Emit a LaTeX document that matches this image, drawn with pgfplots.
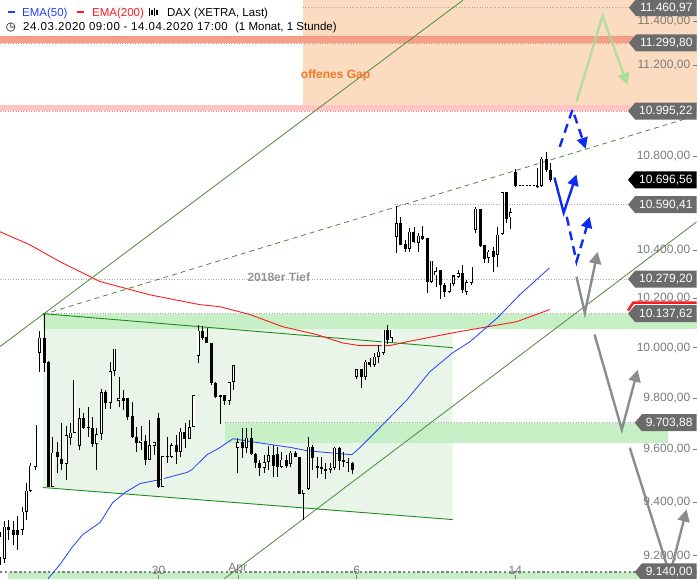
\documentclass[border=0pt]{standalone}
\usepackage{fontspec}
\setmainfont{Liberation Sans}
\newfontfamily\dejavu{DejaVu Sans}
\newfontfamily\datefont[LetterSpace=4.5]{Liberation Sans}
\usepackage{pgfplots}
\usepackage{pgfplotstable}
\pgfplotsset{compat=1.18}
\usetikzlibrary{arrows.meta,shapes.symbols}

\definecolor{gapfill}{HTML}{FCDCC0}
\definecolor{redband}{HTML}{F4A088}
\definecolor{pinkband}{HTML}{FFC4C4}
\definecolor{greenband}{HTML}{C6EFC6}
\definecolor{flagfill}{HTML}{EAF5EA}
\definecolor{flagline}{HTML}{1E8C1E}
\definecolor{chanline}{HTML}{4C8A3C}
\definecolor{ema50}{HTML}{1F3FFF}
\definecolor{ema200}{HTML}{FF1A1A}
\definecolor{arrblue}{HTML}{0B2BF5}
\definecolor{arrgray}{HTML}{8C8C8C}
\definecolor{arrgreen}{HTML}{A9DD97}
\definecolor{lblgray}{HTML}{6B6B6B}
\definecolor{tickgray}{HTML}{7A7A7A}
\definecolor{gapcol}{HTML}{F07A28}

\tikzset{
  refline/.style={draw=gray!70, dotted, line width=0.6pt},
  chan/.style={draw=chanline, line width=0.8pt},
  lbl/.style={shape=signal, signal to=west, signal pointer angle=100, fill=lblgray, text=white,
    font=\fontsize{12}{12}\selectfont, minimum height=17pt, inner xsep=4pt, inner ysep=0pt, anchor=east},
  arrb/.style={draw=arrblue, line width=2.4pt, -{Triangle[length=11pt,width=11pt]}},
  arrg/.style={draw=arrgray, line width=2.4pt, -{Triangle[length=12pt,width=12pt]}},
  wick/.style={draw=black, line width=0.8pt},
  body/.style={draw=black, line width=3pt},
  hollow/.style={draw=white, line width=1.5pt},
  hdr/.style={anchor=base west, inner sep=0pt, font=\fontsize{11.5}{12}\selectfont},
}

% hourly candles, k = hour index from 24.03.2020 09:00
\pgfplotstableread{
k o h l c
0 9192 9286 9167 9271
1 9189 9327 9174 9308
2 9308 9334 9259 9294
3 9297 9327 9241 9278
4 9297 9349 9222 9278
5 9297 9383 9278 9364
6 9364 9474 9334 9443
7 9443 9550 9436 9538
8 9534 9696 9523 9696
9 9980 10065 9904 10041
10 10041 10133 9904 9940
11 9944 9948 9458 9458
12 9458 9649 9458 9588
13 9591 9630 9512 9572
14 9565 9704 9523 9546
15 9546 9692 9485 9657
16 9646 9704 9618 9665
17 9665 9873 9665 9873
18 9615 9762 9599 9723
19 9723 9743 9680 9684
20 9688 9766 9649 9684
21 9684 9727 9611 9622
22 9622 9684 9523 9661
23 9661 9836 9638 9825
24 9825 9833 9758 9781
25 9781 9944 9758 9908
26 9908 9996 9889 9996
27 9789 9885 9766 9801
28 9801 9833 9754 9789
29 9801 9801 9715 9727
30 9731 9785 9646 9649
31 9649 9688 9591 9626
32 9626 9692 9599 9634
33 9634 9657 9542 9561
34 9561 9715 9561 9618
35 9615 9630 9580 9630
36 9723 9743 9455 9458
37 9458 9576 9458 9576
38 9572 9649 9550 9576
39 9572 9626 9569 9618
40 9618 9657 9546 9591
41 9591 9684 9572 9669
42 9669 9704 9607 9642
43 9642 9715 9642 9688
44 9688 9813 9688 9813
45 9968 10093 9940 10069
46 10069 10089 10032 10041
47 10045 10081 10020 10020
48 10020 10020 9852 9860
49 9860 9864 9801 9805
50 9813 9813 9700 9805
51 9813 9813 9774 9789
52 9789 9864 9774 9864
53 9864 9932 9833 9932
54 9607 9646 9512 9630
55 9630 9684 9569 9607
56 9607 9684 9588 9646
57 9646 9684 9580 9584
58 9584 9588 9531 9550
59 9550 9561 9500 9531
60 9531 9580 9512 9553
61 9553 9615 9523 9580
62 9580 9618 9496 9538
63 9584 9611 9496 9534
64 9534 9591 9531 9561
65 9561 9580 9531 9538
66 9546 9595 9534 9588
67 9588 9595 9572 9572
68 9572 9572 9432 9432
69 9432 9447 9334 9447
70 9451 9649 9447 9611
71 9611 9618 9523 9569
72 9534 9572 9493 9531
73 9534 9572 9508 9527
74 9527 9550 9489 9519
75 9523 9550 9512 9531
76 9531 9611 9523 9607
77 9607 9611 9523 9557
78 9561 9591 9534 9553
79 9550 9569 9515 9553
80 9550 9553 9508 9523
81 9885 9916 9877 9916
82 9916 9916 9840 9885
83 9885 9952 9873 9944
84 9944 9960 9924 9932
85 9932 9980 9924 9964
86 9964 10012 9940 9984
87 9980 10073 9972 10073
88 10073 10093 10016 10032
89 10041 10073 10024 10073
90 10455 10586 10388 10514
91 10514 10535 10421 10421
92 10425 10442 10392 10404
93 10404 10493 10392 10476
94 10476 10497 10430 10434
95 10430 10472 10392 10459
96 10459 10501 10442 10447
97 10451 10451 10223 10268
98 10268 10355 10264 10355
99 10293 10330 10248 10313
100 10318 10318 10198 10256
101 10256 10264 10206 10227
102 10227 10264 10223 10264
103 10260 10293 10252 10293
104 10289 10318 10285 10305
105 10305 10338 10223 10235
106 10227 10276 10215 10268
107 10264 10330 10256 10330
108 10484 10581 10472 10573
109 10573 10573 10413 10417
110 10421 10421 10346 10363
111 10367 10400 10346 10392
112 10396 10413 10309 10371
113 10379 10497 10330 10464
114 10468 10645 10464 10645
115 10645 10645 10514 10531
116 10535 10577 10489 10560
117 10731 10744 10667 10671
122 10671 10748 10662 10667
123 10671 10796 10667 10787
124 10787 10817 10731 10740
125 10740 10770 10688 10697
}\candles

% one candle = wick, body, and white inside for rising candles
\newcommand\drawcandle[1]{%
  \pgfplotstablegetelem{#1}{k}\of\candles\let\ck\pgfplotsretval
  \pgfplotstablegetelem{#1}{o}\of\candles\let\co\pgfplotsretval
  \pgfplotstablegetelem{#1}{h}\of\candles\let\ch\pgfplotsretval
  \pgfplotstablegetelem{#1}{l}\of\candles\let\cl\pgfplotsretval
  \pgfplotstablegetelem{#1}{c}\of\candles\let\cc\pgfplotsretval
  \edef\cndtmp{\noexpand\addplot[wick] coordinates {(\ck,\cl) (\ck,\ch)};}\cndtmp
  \ifnum\cc>\co\relax \let\cndlo\co \let\cndhi\cc \def\cndup{1}\else \let\cndlo\cc \let\cndhi\co \def\cndup{0}\fi
  \ifnum\numexpr\cndhi-\cndlo\relax<4 \edef\cndhi{\the\numexpr\cndlo+4\relax}\fi
  \edef\cndtmp{\noexpand\addplot[body] coordinates {(\ck,\cndlo) (\ck,\cndhi)};}\cndtmp
  \ifnum\cndup=1 \ifnum\numexpr\cndhi-\cndlo\relax>7
    \edef\cndtmp{\noexpand\addplot[hollow] coordinates {(\ck,\the\numexpr\cndlo+3\relax) (\ck,\the\numexpr\cndhi-3\relax)};}\cndtmp
  \fi\fi
}

\begin{document}
\begin{tikzpicture}
\begin{axis}[
  set layers,
  scale only axis, width=697pt, height=579pt,
  xmin=0, xmax=158.2,
  % price scale is logarithmic: map y to ln(y/9115)
  y coord trafo/.code={\pgfmathparse{ln(#1/9115)}},
  y coord inv trafo/.code={\pgfmathparse{9115*exp(#1)}},
  ymin=9115, ymax=11496,
  axis line style={draw=none},
  xtick pos=bottom, ytick pos=right, yticklabel pos=right,
  tick align=inside, major tick length=4pt,
  tick style={draw=tickgray, line width=0.6pt},
  xtick={36,54,81,117}, xticklabels={30,Apr,6,14},
  ytick={9200,9400,9600,9800,10000,10200,10400,10800,11200,11400},
  yticklabels={{9.200,00},{9.400,00},{9.600,00},{9.800,00},{10.000,00},{10.200,00},{10.400,00},{10.800,00},{11.200,00},{11.400,00}},
  ticklabel style={text=tickgray, font=\fontsize{12}{12}\selectfont},
  yticklabel style={anchor=east, xshift=-3pt},
  xticklabel style={anchor=south, yshift=1pt},
]
% background zones
\addplot[on layer=axis background, fill=gapfill, draw=none] coordinates {(68.75,10995.22) (158.2,10995.22) (158.2,11496) (68.75,11496)} -- cycle;
\addplot[on layer=axis background, fill=redband, draw=none] coordinates {(0,11299.8) (158.2,11299.8) (158.2,11330.11) (0,11330.11)} -- cycle;
\addplot[on layer=axis background, fill=pinkband, draw=none] coordinates {(0,10995.22) (158.2,10995.22) (158.2,11020) (0,11020)} -- cycle;
\addplot[on layer=axis background, fill=flagfill, draw=none] coordinates {(9.74,10077) (102.8,10077) (102.8,9334) (9.74,9455)} -- cycle;
\addplot[on layer=axis background, fill=greenband, draw=none] coordinates {(9.74,10077) (158.2,10077) (158.2,10137.62) (9.74,10137.62)} -- cycle;
\addplot[on layer=axis background, fill=greenband, draw=none] coordinates {(51.05,9626) (151.6,9626) (151.6,9703.88) (51.05,9703.88)} -- cycle;
\addplot[on layer=axis background, fill=greenband, draw=none] coordinates {(1.8,9115) (158.2,9115) (158.2,9140) (1.8,9140)} -- cycle;

% level lines
\addplot[refline] coordinates {(68.75,11460.97) (158.2,11460.97)};
\addplot[refline, draw=red!50] coordinates {(0,11330.11) (158.2,11330.11)};
\addplot[refline, draw=red!50] coordinates {(0,11299.8) (158.2,11299.8)};
\addplot[refline, draw=red!50] coordinates {(0,10995.22) (158.2,10995.22)};
\addplot[refline] coordinates {(89.6,10590.41) (158.2,10590.41)};
\addplot[refline] coordinates {(0,10279.2) (158.2,10279.2)};
\addplot[refline] coordinates {(9.74,10137.62) (158.2,10137.62)};
\addplot[refline] coordinates {(51.05,9703.88) (158.2,9703.88)};
\addplot[draw=gray, line width=2.4pt, dash pattern=on 2.4pt off 2.4pt] coordinates {(0,9140) (158.2,9140)};

% trend channel and flag
\addplot[chan] coordinates {(0,10004) (105.1,11496)};
\addplot[chan] coordinates {(50.93,9115) (158.2,10518)};
\addplot[chan, dash pattern=on 5pt off 4pt] coordinates {(9.74,10133) (158.2,10977)};
\addplot[draw=flagline, line width=0.9pt] coordinates {(9.74,10137.62) (102.8,10000)};
\addplot[draw=flagline, line width=0.9pt] coordinates {(9.74,9455) (102.8,9334)};

% EMA(200) and EMA(50)
\addplot[draw=ema200, line width=0.9pt] coordinates {
 (0,10476) (6.8,10421) (13.6,10351) (22.7,10268) (34.0,10215) (45.4,10174)
 (49.9,10166) (56.7,10133) (64.2,10085) (71.9,10053) (77.8,10020) (81.7,10008)
 (88.5,10008) (92.4,10024) (102.1,10057) (109.6,10081) (117.3,10105) (124.8,10154)};
\addplot[draw=ema200, line width=2.5pt] coordinates {(142.6,10150) (143.8,10182) (158.2,10182)};
\addplot[draw=ema50, line width=0.8pt] coordinates {
 (10.9,9115) (13.6,9167) (16.3,9229) (18.8,9278) (22.7,9323) (25.6,9398) (28.4,9436)
 (31.8,9470) (36.3,9485) (42.4,9512) (43.6,9523) (47.0,9580) (49.9,9607) (52.9,9642)
 (57.2,9630) (66.3,9607) (69.9,9595) (79.9,9580) (81.7,9607) (86.2,9684) (92.4,9793)
 (97.6,9904) (102.8,9980) (106.7,10024) (113.0,10121) (118.0,10215) (124.8,10326)};

% candles
\pgfplotsinvokeforeach{0,...,121}{\drawcandle{#1}}
\addplot[draw=black, line width=0.7pt, dash pattern=on 2pt off 1.5pt] coordinates {(117,10671) (122,10671)};

% projections
\addplot[draw=arrgreen, opacity=0.85, line width=2.4pt, -{Triangle[length=12pt,width=12pt]}] coordinates {(130.9,11036) (136.8,11423) (142.5,11112)};
\addplot[arrb, dash pattern=on 9pt off 6pt] coordinates {(127.1,10839) (130.0,11001) (133.0,10830)};
\addplot[arrb] coordinates {(125.9,10706) (128.0,10556) (130.9,10719)};
\addplot[arrb, dash pattern=on 9pt off 6pt] coordinates {(128.7,10539) (130.9,10351) (133.9,10539)};
\addplot[arrg] coordinates {(130.9,10289) (132.8,10141) (135.7,10392)};
\addplot[arrg] coordinates {(135.0,10053) (141.2,9677) (144.8,9912)};
\addplot[arrg] coordinates {(143.0,9607) (152.1,9130) (155.9,9372)};

% annotations
\node[font=\fontsize{12}{12}\selectfont\bfseries, text=gapcol] at (axis cs:76.2,11152) {offenes Gap};
\node[font=\fontsize{12}{12}\selectfont\bfseries, text=gray!85] at (axis cs:63.3,10289) {2018er Tief};

% price labels
\node[lbl] at (axis cs:158.2,11460.97) {11.460,97};
\node[lbl] at (axis cs:158.2,11299.8) {11.299,80};
\node[lbl] at (axis cs:158.2,10995.22) {10.995,22};
\node[lbl, fill=black] at (axis cs:158.2,10696.56) {10.696,56};
\node[lbl] at (axis cs:158.2,10590.41) {10.590,41};
\node[lbl] at (axis cs:158.2,10279.2) {10.279,20};
\node[lbl] at (axis cs:158.2,10137.62) {10.137,62};
\node[lbl] at (axis cs:158.2,9703.88) {9.703,88};
\node[lbl] at (axis cs:158.2,9140) {9.140,00};

% header
\node[hdr, text=ema50] at (rel axis cs:0.0115,0.9715) {\rule[3pt]{7pt}{2.6pt}};
\node[hdr, text=ema50] at (rel axis cs:0.0316,0.9715) {EMA(50)};
\node[hdr, text=ema200] at (rel axis cs:0.1105,0.9715) {\rule[3pt]{7pt}{2.6pt}};
\node[hdr, text=ema200] at (rel axis cs:0.1320,0.9715) {EMA(200)};
\node[hdr] at (rel axis cs:0.2138,0.9715) {\rule[0pt]{0.7pt}{8.5pt}\hspace{1.2pt}\rule[1pt]{2pt}{5pt}\hspace{1.2pt}\rule[0pt]{0.7pt}{8.5pt}\hspace{1.2pt}\rule[1pt]{2pt}{5pt}};
\node[hdr] at (rel axis cs:0.2396,0.9715) {DAX (XETRA, Last)};
\node[hdr] at (rel axis cs:0.0080,0.9465) {\dejavu ◷};
\node[hdr] at (rel axis cs:0.0330,0.9465) {\datefont 24.03.2020 09:00 - 14.04.2020 17:00};
\node[hdr] at (rel axis cs:0.3372,0.9465) {(1 Monat, 1 Stunde)};
\end{axis}
\end{tikzpicture}
\end{document}
